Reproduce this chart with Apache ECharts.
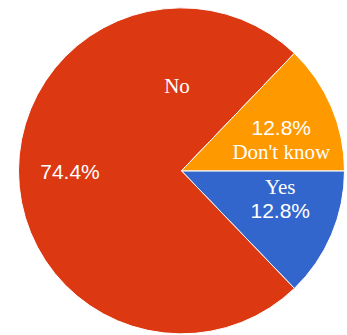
<!DOCTYPE html>
<html>
<head>
<meta charset="utf-8">
<script src="https://cdn.jsdelivr.net/npm/echarts@6/dist/echarts.min.js"></script>
<style>
  html, body { margin: 0; padding: 0; background: #fff; }
  #chart { width: 347px; height: 335px; }
</style>
</head>
<body>
<div id="chart"></div>
<script>
// answers, counted clockwise from 3 o'clock
const categories = ['Yes', 'No', "Don't know"];
const counts = [5, 29, 5];
const colors = ['#3366cc', '#dc3912', '#ff9900'];

const serif = '"Liberation Serif", "Times New Roman", serif';
const sans = '"Liberation Sans", Arial, sans-serif';

// nudges from ECharts' default inside-label spot
const pctShift = [[21, -5], [-27, 1], [22, 2]];
const nameShift = [[0, 0], [80, -85], [0, 0]];

const chart = echarts.init(document.getElementById('chart'), null, { renderer: 'svg' });

const data = categories.map((name, i) => ({
  name,
  value: counts[i],
  itemStyle: { color: colors[i] },
}));

const rich = {
  n: { fontFamily: serif, fontSize: 21, color: '#fff', lineHeight: 24 },
  p: { fontFamily: sans, fontSize: 21, color: '#fff', lineHeight: 24 },
};

const pie = {
  type: 'pie',
  center: ['52.3%', '51%'],
  radius: 163,
  startAngle: 0,
  clockwise: true,
  percentPrecision: 1,
  avoidLabelOverlap: false,
  labelLine: { show: false },
};

chart.setOption({
  animation: false,
  series: [
    {
      ...pie,
      data,
      itemStyle: { borderColor: '#fff', borderWidth: 1 },
      label: {
        position: 'inside',
        rich,
        formatter: (p) => {
          const pct = `{p|${p.percent.toFixed(1)}%}`;
          if (p.dataIndex === 0) return `{n|${p.name}}\n${pct}`;
          if (p.dataIndex === 2) return `${pct}\n{n|${p.name}}`;
          return pct;
        },
      },
      labelLayout: (p) => ({ dx: pctShift[p.dataIndex][0], dy: pctShift[p.dataIndex][1] }),
    },
    {
      ...pie,
      silent: true,
      z: 3,
      data: data.map((d, i) => ({
        name: d.name,
        value: d.value,
        itemStyle: { color: 'transparent', borderWidth: 0 },
        label: { show: i === 1 },
      })),
      label: {
        position: 'inside',
        rich,
        formatter: '{n|{b}}',
      },
      labelLayout: (p) => ({ dx: nameShift[p.dataIndex][0], dy: nameShift[p.dataIndex][1] }),
    },
  ],
});
</script>
</body>
</html>
